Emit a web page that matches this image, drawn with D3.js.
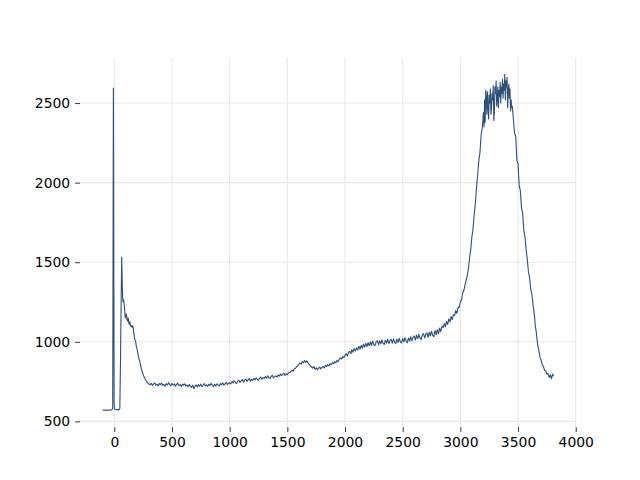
<!DOCTYPE html>
<html>
<head>
<meta charset="utf-8">
<script src="https://cdn.jsdelivr.net/npm/d3@7"></script>
<style>
  html, body { margin: 0; padding: 0; background: #ffffff; }
  svg { display: block; }
  text { font-family: "DejaVu Sans", sans-serif; }
</style>
</head>
<body>
<script>
// ---- data ----
const xTicks = [0, 500, 1000, 1500, 2000, 2500, 3000, 3500, 4000];
const yTicks = [500, 1000, 1500, 2000, 2500];

const leadIn = [[-102,572],[-90,570],[-80,571],[-70,569],[-60,572],[-50,570],[-40,571],[-30,570],[-20,574],[-16,578]];
const firstSpike = [[-14,582],[-11,1500],[-8,2595],[-5,1600],[-2,620],[1,578],[5,575],[15,573],[25,574],[35,572],[45,576]];
const secondPeak = [[48,585],[54,900],[60,1300],[64,1533],[68,1400],[72,1280],[76,1250],[80,1265],[85,1240],[90,1200],[95,1150],[100,1160],[105,1175],[110,1140],[115,1130],[120,1150],[125,1120],[130,1110],[135,1125],[140,1100],[145,1105],[150,1095],[155,1090],[160,1100],[165,1080],[170,1050],[175,1025],[180,1010],[185,1000],[190,975],[195,960],[200,945],[210,905],[220,880],[225,860],[235,830],[245,805],[255,785],[265,770],[275,757],[285,745],[295,738],[305,732]];
const plateau = [
[310,730],[320,739],[330,725],[340,735],[350,742],[360,728],[370,734],[380,723],[390,738],[400,731],
[410,741],[420,726],[430,733],[440,721],[450,737],[460,729],[470,743],[480,731],[490,724],[500,738],
[510,727],[520,736],[530,720],[540,733],[550,740],[560,725],[570,731],[580,719],[590,735],[600,728],
[610,736],[620,723],[630,729],[640,717],[650,732],[660,721],[670,714],[680,727],[690,705],[700,721],
[710,729],[720,716],[730,731],[740,721],[750,734],[760,718],[770,727],[780,737],[790,723],[800,730],
[810,720],[820,734],[830,725],[840,739],[850,727],[860,718],[870,733],[880,723],[890,736],[900,729],
[910,723],[920,738],[930,730],[940,742],[950,727],[960,736],[970,746],[980,731],[990,740],[1000,742],
[1010,736],[1020,750],[1030,741],[1040,755],[1050,744],[1060,738],[1070,753],[1080,758],[1090,745],[1100,754],
[1110,762],[1120,748],[1130,759],[1140,766],[1150,751],[1160,761],[1170,769],[1180,754],[1190,764],[1200,758],
[1210,771],[1220,760],[1230,774],[1240,763],[1250,758],[1260,772],[1270,778],[1280,765],[1290,775],[1300,769],
[1310,782],[1320,771],[1330,786],[1340,775],[1350,768],[1360,784],[1370,789],[1380,773],[1390,782],[1400,786],
[1410,778],[1420,792],[1430,784],[1440,798],[1450,787],[1460,795],[1470,803],[1480,789],[1490,799],[1500,793]
];
const bump = [
[1510,806],[1520,807],[1530,814],[1540,821],[1550,815],[1560,829],[1570,834],[1580,843],[1590,850],[1600,858],
[1610,866],[1620,861],[1630,876],[1640,869],[1650,882],[1660,871],[1670,880],[1680,865],[1690,858],[1700,849],
[1710,843],[1720,835],[1730,845],[1740,828],[1750,836],[1760,825],[1770,833],[1780,841],[1790,830],[1800,839],
[1810,845],[1820,836],[1830,851],[1840,844],[1850,857],[1860,848],[1870,862],[1880,856],[1890,869],[1900,862],
[1910,875],[1920,868],[1930,883],[1940,875],[1950,890],[1960,899],[1970,892],[1980,907],[1990,900],[2000,916]
];
const slope = [
[2010,926],[2020,910],[2030,933],[2040,940],[2050,925],[2060,950],[2070,935],[2080,957],[2090,942],[2100,962],
[2110,948],[2120,972],[2130,955],[2140,978],[2150,960],[2160,985],[2170,966],[2180,990],[2190,970],[2200,994],
[2210,975],[2220,999],[2230,978],[2240,1004],[2250,981],[2260,976],[2270,1001],[2280,1007],[2290,982],[2300,1006],
[2310,987],[2320,1012],[2330,990],[2340,983],[2350,1010],[2360,992],[2370,1016],[2380,988],[2390,1009],[2400,1015],
[2410,991],[2420,1018],[2430,997],[2440,989],[2450,1016],[2460,996],[2470,1022],[2480,999],[2490,993],[2500,1020],
[2510,1000],[2520,1026],[2530,1003],[2540,995],[2550,1024],[2560,1004],[2570,1032],[2580,1007],[2590,1028],[2600,1037],
[2610,1011],[2620,1042],[2630,1019],[2640,1047],[2650,1023],[2660,1013],[2670,1044],[2680,1051],[2690,1024],[2700,1048],
[2710,1056],[2720,1028],[2730,1061],[2740,1037],[2750,1067],[2760,1041],[2770,1033],[2780,1070],[2790,1046],[2800,1076],
[2810,1052],[2820,1086],[2830,1065],[2840,1098],[2850,1089],[2860,1114],[2870,1094],[2880,1128],[2890,1109],[2900,1144],
[2910,1125],[2920,1158],[2930,1140],[2940,1171],[2950,1166],[2960,1196],[2970,1179],[2980,1216],[2990,1216],[3000,1250]
];
const mainRise = [
[3010,1262],[3020,1305],[3030,1322],[3040,1356],[3050,1385],[3060,1418],[3070,1462],[3080,1528],[3090,1582],[3100,1660],
[3110,1712],[3120,1800],[3130,1870],[3140,1970],[3150,2050],[3160,2140],[3170,2190],[3180,2300],[3190,2340]
];
const mainTop = [
[3200,2440],[3205,2350],[3210,2520],[3215,2380],[3220,2580],[3225,2540],[3230,2430],[3235,2570],[3240,2480],[3245,2400],
[3250,2550],[3255,2500],[3260,2590],[3265,2430],[3270,2470],[3275,2560],[3280,2520],[3285,2610],[3290,2390],[3295,2450],
[3300,2600],[3305,2560],[3310,2640],[3315,2480],[3320,2520],[3325,2600],[3330,2470],[3335,2580],[3340,2540],[3345,2630],
[3350,2500],[3355,2600],[3360,2560],[3365,2650],[3370,2530],[3375,2620],[3380,2580],[3385,2680],[3390,2520],[3395,2640],
[3400,2600],[3405,2660],[3410,2470],[3415,2580],[3420,2620],[3425,2530],[3430,2590],[3435,2450],[3440,2520],[3445,2470],[3450,2480]
];
const tail = [
[3460,2400],[3470,2310],[3480,2290],[3490,2140],[3500,2120],[3510,1980],[3520,1950],[3530,1840],[3540,1810],[3550,1700],
[3560,1660],[3570,1580],[3580,1520],[3590,1440],[3600,1400],[3610,1330],[3620,1300],[3630,1230],[3640,1180],[3650,1100],
[3660,1050],[3670,980],[3680,950],[3690,905],[3700,885],[3710,855],[3720,845],[3730,820],[3740,818],[3750,798],
[3760,800],[3770,776],[3780,793],[3790,768],[3800,797],[3807,785]
];

const series = [].concat(leadIn, firstSpike, secondPeak, plateau, bump, slope, mainRise, mainTop, tail);

// ---- layout ----
const W = 640, H = 480;
const mLeft = 80, mRight = 576, mTop = 57.6, mBottom = 427.2;

const svg = d3.select("body").append("svg").attr("width", W).attr("height", H);

const xExt = d3.extent(series, d => d[0]);
const yExt = d3.extent(series, d => d[1]);
const xPad = (xExt[1] - xExt[0]) * 0.05, yPad = (yExt[1] - yExt[0]) * 0.05;

const x = d3.scaleLinear().domain([xExt[0] - xPad, xExt[1] + xPad]).range([mLeft, mRight]);
const y = d3.scaleLinear().domain([yExt[0] - yPad, yExt[1] + yPad]).range([mBottom, mTop]);

// grid
svg.append("g").selectAll("line").data(xTicks).join("line")
  .attr("x1", d => x(d)).attr("x2", d => x(d)).attr("y1", mTop).attr("y2", mBottom)
  .attr("stroke", "#e8e8e8").attr("stroke-width", 1.1);
svg.append("g").selectAll("line").data(yTicks).join("line")
  .attr("x1", mLeft).attr("x2", mRight).attr("y1", d => y(d)).attr("y2", d => y(d))
  .attr("stroke", "#e8e8e8").attr("stroke-width", 1.1);

// axes
const xAxis = svg.append("g").attr("transform", `translate(0,${mBottom})`)
  .call(d3.axisBottom(x).tickValues(xTicks).tickFormat(d3.format("d")).tickSize(4.9).tickPadding(4.9));
const yAxis = svg.append("g").attr("transform", `translate(${mLeft},0)`)
  .call(d3.axisLeft(y).tickValues(yTicks).tickFormat(d3.format("d")).tickSize(4.9).tickPadding(4.9));
[xAxis, yAxis].forEach(g => {
  g.select(".domain").remove();
  g.selectAll(".tick line").attr("stroke", "#000").attr("stroke-width", 0.8);
  g.selectAll(".tick text").attr("font-size", "13.9px").attr("fill", "#000")
    .attr("font-family", "DejaVu Sans, sans-serif");
});

// line
const line = d3.line().x(d => x(d[0])).y(d => y(d[1]));
svg.append("path").datum(series)
  .attr("fill", "none").attr("stroke", "#2f4f78").attr("stroke-width", 1.1)
  .attr("stroke-linejoin", "round")
  .attr("d", line);
</script>
</body>
</html>
